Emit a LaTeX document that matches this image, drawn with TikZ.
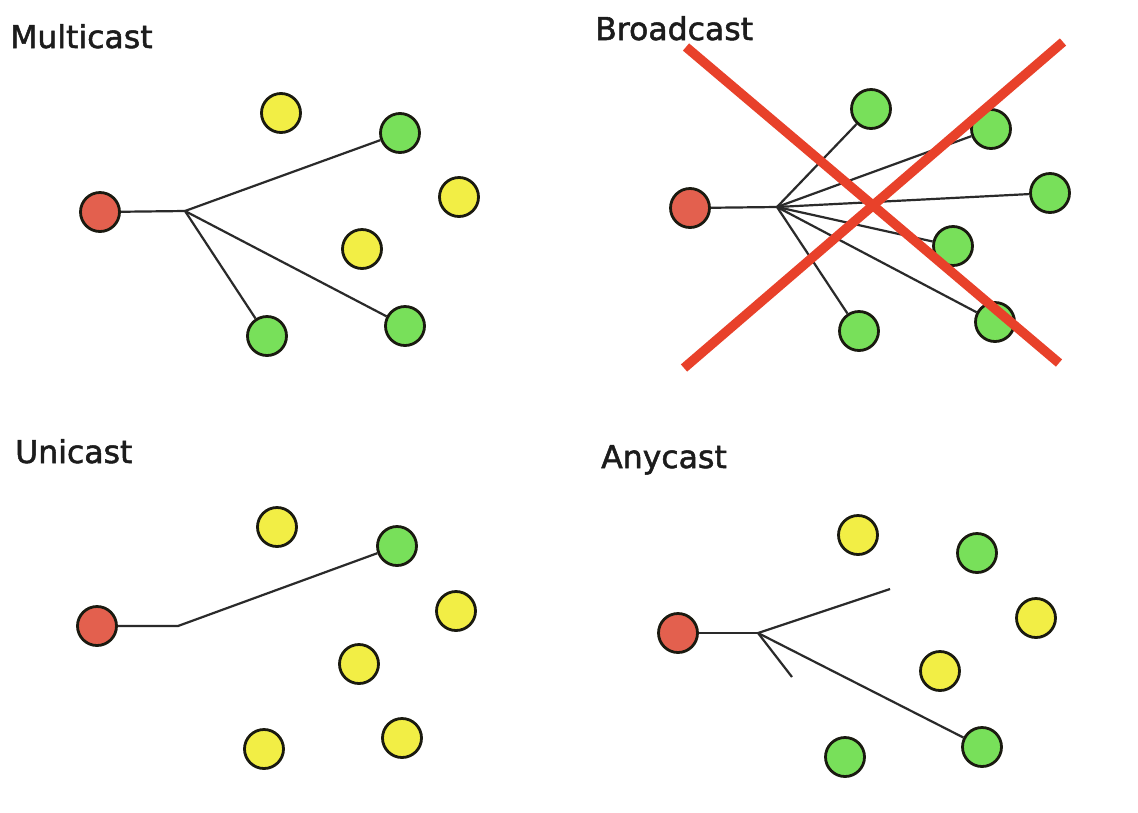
\documentclass[tikz,border=0pt]{standalone}
\usepackage{fontspec}
\setmainfont{DejaVu Sans}[FakeBold=1.6]
\definecolor{nred}{HTML}{E3604E}
\definecolor{nyel}{HTML}{F2EE45}
\definecolor{ngrn}{HTML}{78E05A}
\definecolor{nbrd}{HTML}{1A1A10}
\definecolor{xred}{HTML}{E8412A}
\definecolor{lnk}{HTML}{2A2A2A}
\definecolor{ttl}{HTML}{1C1C1C}
\begin{document}
\begin{tikzpicture}[x=1pt,y=-1pt,
  dot/.style={circle,draw=nbrd,line width=2.8pt,minimum size=39pt,inner sep=0pt},
  src/.style={dot,fill=nred},
  yel/.style={dot,fill=nyel},
  grn/.style={dot,fill=ngrn},
  link/.style={draw=lnk,line width=2.2pt},
  cross/.style={draw=xred,line width=9.5pt},
  ttlnode/.style={anchor=base west,inner sep=0pt,text=ttl,font=\fontsize{31.5}{36}\selectfont}]
\useasboundingbox (0,0) rectangle (1138,812);
\fill[white] (0,0) rectangle (1138,812);

% ---------- Multicast ----------
\node[ttlnode] (tm) at (10,48) {Multicast};
\node[src] (mr) at (100,212) {};
\coordinate (mb) at (185,211);
\node[yel] (my1) at (281,113) {};
\node[grn] (mg1) at (400,133) {};
\node[yel] (my2) at (459,197) {};
\node[yel] (my3) at (362,249) {};
\node[grn] (mg2) at (267,336) {};
\node[grn] (mg3) at (405,326) {};
\draw[link] (mr) -- (mb);
\draw[link] (mb) -- (mg1);
\draw[link] (mb) -- (mg2);
\draw[link] (mb) -- (mg3);

% ---------- Broadcast ----------
\node[ttlnode] (tb) at (595,40) {Broadcast};
\node[src] (br) at (690,208) {};
\coordinate (bb) at (777,207);
\node[grn] (bg1) at (871,109) {};
\node[grn] (bg2) at (991,129) {};
\node[grn] (bg3) at (1050,193) {};
\node[grn] (bg4) at (953,246) {};
\node[grn] (bg5) at (859,331) {};
\node[grn] (bg6) at (995,322) {};
\draw[link] (br) -- (bb);
\foreach \n in {bg1,bg2,bg3,bg4,bg5,bg6} \draw[link] (bb) -- (\n);
\coordinate (x1a) at (686,47);
\coordinate (x1b) at (1059,363);
\coordinate (x2a) at (684,368);
\coordinate (x2b) at (1063,42);
\draw[cross] (x1a) -- (x1b);
\draw[cross] (x2a) -- (x2b);

% ---------- Unicast ----------
\node[ttlnode] (tu) at (15,463) {Unicast};
\node[src] (ur) at (97,626) {};
\coordinate (ub) at (178,626);
\node[yel] (uy1) at (277,527) {};
\node[grn] (ug1) at (397,546) {};
\node[yel] (uy2) at (456,611) {};
\node[yel] (uy3) at (359,664) {};
\node[yel] (uy4) at (264,749) {};
\node[yel] (uy5) at (402,738) {};
\draw[link] (ur) -- (ub) -- (ug1);

% ---------- Anycast ----------
\node[ttlnode] (ta) at (601,468) {Anycast};
\node[src] (ar) at (678,633) {};
\coordinate (ab) at (758,633);
\coordinate (ae1) at (890,589);
\coordinate (ae2) at (792,677);
\node[yel] (ay1) at (858,535) {};
\node[grn] (ag1) at (977,553) {};
\node[yel] (ay2) at (1036,618) {};
\node[yel] (ay3) at (940,671) {};
\node[grn] (ag2) at (845,757) {};
\node[grn] (ag3) at (982,747) {};
\draw[link] (ar) -- (ab);
\draw[link] (ab) -- (ae1);
\draw[link] (ab) -- (ae2);
\draw[link] (ab) -- (ag3);
\end{tikzpicture}
\end{document}
